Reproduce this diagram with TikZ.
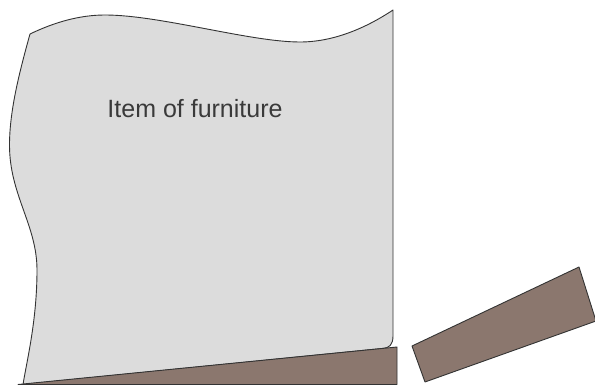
\documentclass[tikz,border=0pt]{standalone}
\usepackage{fontspec}
\setmainfont{Liberation Sans}
\definecolor{furngray}{HTML}{DCDCDC}
\definecolor{wedgebrown}{HTML}{8B776E}
\definecolor{edgedark}{HTML}{333333}
\definecolor{textdark}{HTML}{3A3A3A}
\tikzset{
  outline/.style={draw=edgedark, line width=0.9pt, line join=round},
  furniture/.style={outline, fill=furngray},
  wedgepart/.style={outline, fill=wedgebrown},
  label/.style={text=textdark, font=\fontsize{25}{30}\selectfont, inner sep=0pt}
}
\begin{document}
\begin{tikzpicture}[x=1pt, y=-1pt]
\useasboundingbox (0,0) rectangle (595,385);
% furniture
\draw[furniture] (30,34)
  .. controls (55,22) and (80,15) .. (105,15)
  .. controls (160,15) and (250,42) .. (300,42)
  .. controls (340,42) and (375,22) .. (393,10)
  -- (393,336)
  .. controls (393,345) and (389,348) .. (383,348.4)
  -- (23,384.5)
  .. controls (27,360) and (37,320) .. (37,270)
  .. controls (37,225) and (9.5,195) .. (9.5,145)
  .. controls (9.5,110) and (20,70) .. (30,34)
  -- cycle;
% wedge under furniture
\draw[wedgepart] (18,384.5) -- (397,384.5) -- (397,347) -- cycle;
% second wedge
\draw[wedgepart] (412,346) -- (579,267) -- (596,321) -- (425,382) -- cycle;
% label
\node[label, anchor=base] (title) at (195,118) {Item of furniture};
\end{tikzpicture}
\end{document}
